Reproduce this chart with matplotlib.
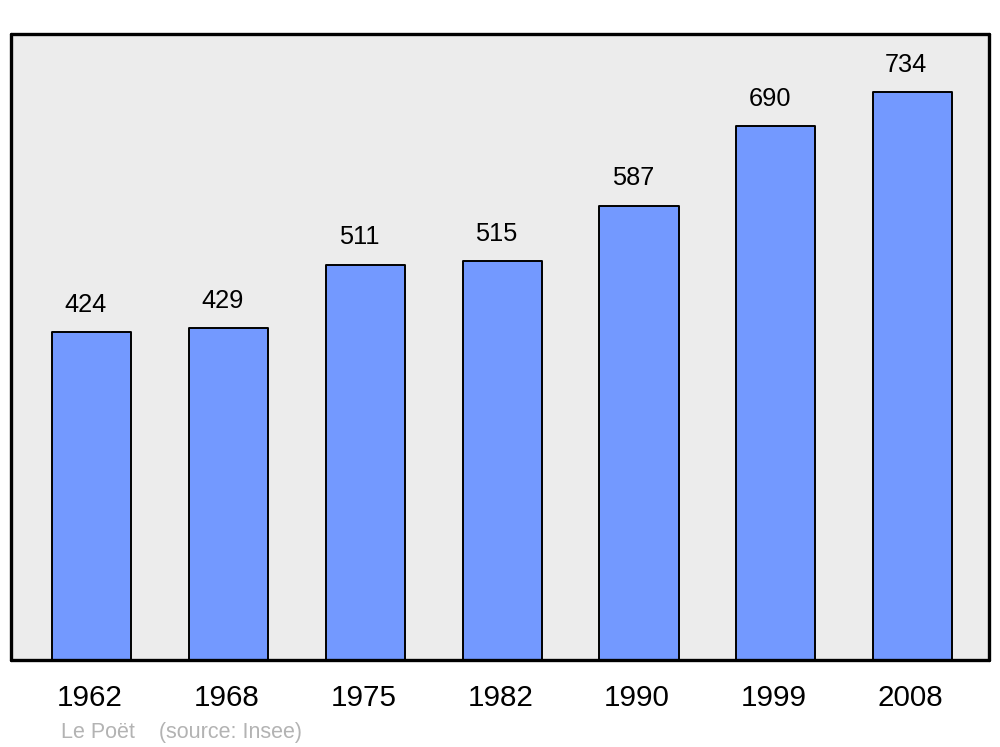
import numpy as np
import matplotlib
matplotlib.use("Agg")
import matplotlib.pyplot as plt
import matplotlib.transforms as mtransforms

plt.rcParams['font.family'] = ['Liberation Sans', 'DejaVu Sans']

# population by census year
years = ['1962', '1968', '1975', '1982', '1990', '1999', '2008']
population = [424, 429, 511, 515, 587, 690, 734]

bar_color = '#7399ff'
bg_color = '#ececec'

fig = plt.figure(figsize=(10, 7.47), dpi=100)
ax = fig.add_axes([0.011, 0.1165, 0.978, 0.838])
ax.set_facecolor(bg_color)

x = np.arange(len(years))
bars = ax.bar(x, population, width=0.578, color=bar_color,
              edgecolor='black', linewidth=1.4, zorder=2)
for b in bars:
    b.set_joinstyle('round')

for xi, v in zip(x, population):
    ax.annotate(str(v), (xi, v), xytext=(-4.5, 11), textcoords='offset points',
                ha='center', va='bottom', fontsize=18.3)

ax.set_xlim(-0.592, len(years) - 1 + 0.559)
ax.set_ylim(0, 809)
ax.set_xticks(x)
ax.set_xticklabels(years, fontsize=21.3)
ax.tick_params(axis='x', length=0, pad=17)
shift = mtransforms.ScaledTranslation(-2 / 100, 0, fig.dpi_scale_trans)
for lbl in ax.get_xticklabels():
    lbl.set_transform(lbl.get_transform() + shift)
ax.set_yticks([])
for s in ax.spines.values():
    s.set_linewidth(2.4)
    s.set_capstyle('round')
    s.set_joinstyle('round')

fig.text(0.061, 0.006, 'Le Poët    (source: Insee)', color='#b3b3b3',
         fontsize=15.5, ha='left', va='bottom')

fig.savefig('out.png', dpi=100, facecolor='white')
